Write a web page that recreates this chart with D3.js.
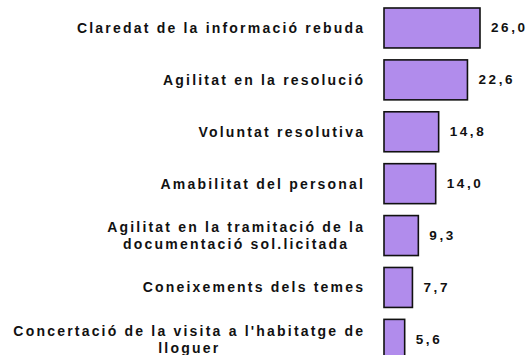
<!DOCTYPE html>
<html>
<head>
<meta charset="utf-8">
<script src="https://cdn.jsdelivr.net/npm/d3@7"></script>
<style>
  html, body { margin: 0; padding: 0; background: #fff; }
  svg { display: block; }
  text { font-family: "Liberation Sans", Arial, sans-serif; font-weight: bold; fill: #111; }
</style>
</head>
<body>
<svg id="chart" width="528" height="355"></svg>
<script>
// Aspectes valorats (%)
const categories = [
  "Claredat de la informació rebuda",
  "Agilitat en la resolució",
  "Voluntat resolutiva",
  "Amabilitat del personal",
  "Agilitat en la tramitació de la\ndocumentació sol.licitada",
  "Coneixements dels temes",
  "Concertació de la visita a l'habitatge de\nlloguer"
];
const values = [26.0, 22.6, 14.8, 14.0, 9.3, 7.7, 5.6];
const valueLabels = ["26,0", "22,6", "14,8", "14,0", "9,3", "7,7", "5,6"];

const svg = d3.select("#chart");
const data = categories.map((c, i) => ({ cat: c, value: values[i], label: valueLabels[i] }));

const x = d3.scaleLinear().domain([0, 26]).range([384, 480]);
const y = d3.scaleBand()
  .domain(categories)
  .range([2.03, 365.3])
  .paddingInner(0.23)
  .paddingOuter(0.115);

// Bars
svg.append("g").selectAll("rect")
  .data(data)
  .join("rect")
  .attr("x", x(0))
  .attr("y", d => y(d.cat))
  .attr("width", d => x(d.value) - x(0))
  .attr("height", y.bandwidth())
  .attr("fill", "#b18cec")
  .attr("stroke", "#111")
  .attr("stroke-width", 1.6);

// Value labels
svg.append("g").selectAll("text")
  .data(data)
  .join("text")
  .attr("x", d => x(d.value) + 11)
  .attr("y", d => y(d.cat) + y.bandwidth() / 2 + 4.5)
  .attr("font-size", 13.5)
  .attr("letter-spacing", 2.6)
  .text(d => d.label);

// Category labels: right-aligned block, lines centred within it
const labelRight = 363;
const lineGap = 17;
const ls = 2.2;
const catG = svg.append("g");
data.forEach(d => {
  const lines = d.cat.split("\n");
  const cy = y(d.cat) + y.bandwidth() / 2;
  const g = catG.append("g");
  const texts = lines.map((ln, i) => g.append("text")
    .attr("font-size", 14)
    .attr("letter-spacing", ls)
    .attr("text-anchor", "middle")
    .attr("y", cy + 5 + (i - (lines.length - 1) / 2) * lineGap)
    .text(ln));
  const widths = texts.map(t => t.node().getComputedTextLength() - ls);
  const maxW = d3.max(widths);
  const center = labelRight - maxW / 2;
  texts.forEach(t => t.attr("x", center + ls / 2));
});
</script>
</body>
</html>
